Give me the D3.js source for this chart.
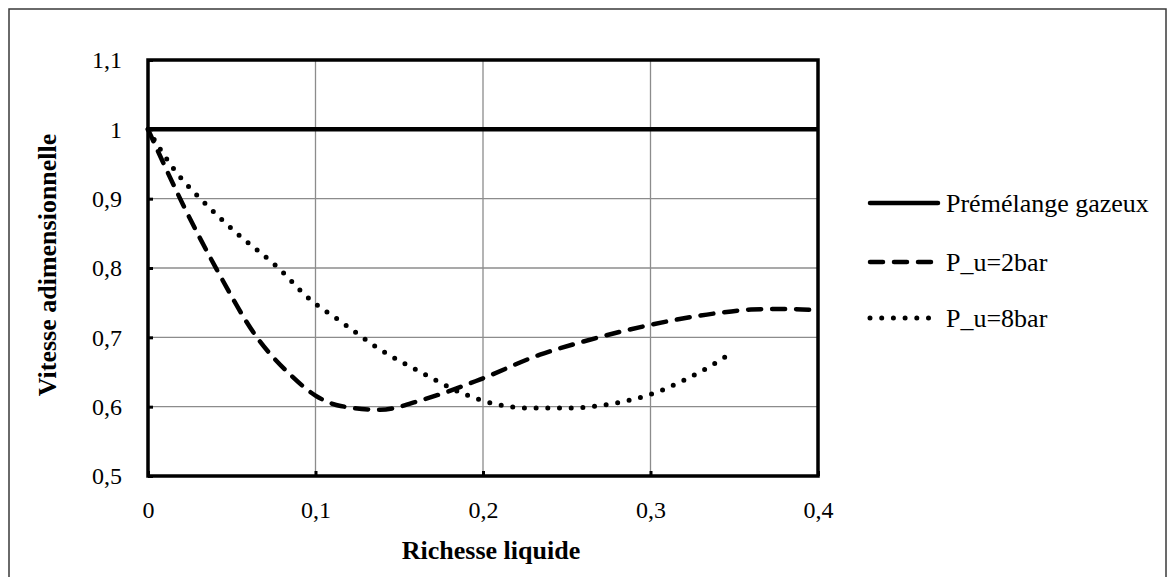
<!DOCTYPE html>
<html><head><meta charset="utf-8">
<script src="https://cdn.jsdelivr.net/npm/d3@7"></script>
<style>body{margin:0;background:#fff}svg{display:block}text{font-family:"Liberation Serif","Times New Roman",serif;fill:#000}</style>
</head><body>
<svg id="c" width="1167" height="577"></svg>
<script>
const xTicks = [0, 0.1, 0.2, 0.3, 0.4];
const yTicks = [0.5, 0.6, 0.7, 0.8, 0.9, 1.0, 1.1];
const seriesNames = ["Prémélange gazeux", "P_u=2bar", "P_u=8bar"];
const gazX = [0, 0.4];
const gazY = [1, 1];
const p2X = [0, 0.021, 0.041, 0.065, 0.085, 0.1, 0.115, 0.1385, 0.164, 0.198, 0.234, 0.26, 0.3, 0.34, 0.36, 0.38, 0.4];
const p2Y = [1, 0.891, 0.798, 0.700, 0.646, 0.616, 0.601, 0.5955, 0.610, 0.639, 0.675, 0.694, 0.718, 0.735, 0.740, 0.741, 0.739];
const p8X = [0, 0.015, 0.035, 0.055, 0.077, 0.097, 0.115, 0.1375, 0.162, 0.187, 0.207, 0.228, 0.25, 0.271, 0.292, 0.305, 0.318, 0.331, 0.35];
const p8Y = [1, 0.944, 0.891, 0.846, 0.802, 0.754, 0.723, 0.684, 0.651, 0.620, 0.604, 0.598, 0.598, 0.602, 0.612, 0.622, 0.636, 0.652, 0.680];

const svg = d3.select("#c");
const L = 148, R = 818, T = 60, B = 476;
const x = d3.scaleLinear().domain([0, 0.4]).range([L, R]);
const y = d3.scaleLinear().domain([0.5, 1.1]).range([B, T]);
const fmt = d => String(+d.toFixed(2)).replace(".", ",");

svg.append("rect").attr("x", 9).attr("y", 9).attr("width", 1157).attr("height", 600)
  .attr("fill", "none").attr("stroke", "#3a3a3a").attr("stroke-width", 1.5);

// grid
svg.append("g").selectAll("line").data(xTicks.slice(1, -1)).join("line")
  .attr("x1", d => x(d)).attr("x2", d => x(d)).attr("y1", T).attr("y2", B)
  .attr("stroke", "#8c8c8c").attr("stroke-width", 1.3);
svg.append("g").selectAll("line").data(yTicks.slice(1, -1)).join("line")
  .attr("y1", d => y(d)).attr("y2", d => y(d)).attr("x1", L).attr("x2", R)
  .attr("stroke", "#8c8c8c").attr("stroke-width", 1.3);

// axes
const xAxis = svg.append("g").attr("transform", `translate(0,${B})`)
  .call(d3.axisBottom(x).tickValues(xTicks).tickFormat(fmt).tickSize(-5).tickPadding(25));
const yAxis = svg.append("g").attr("transform", `translate(${L},0)`)
  .call(d3.axisLeft(y).tickValues(yTicks).tickFormat(fmt).tickSize(-5).tickPadding(26));
[xAxis, yAxis].forEach(a => {
  a.select(".domain").remove();
  a.selectAll(".tick line").attr("stroke", "#000").attr("stroke-width", 3);
  a.selectAll("text").attr("font-size", 24).attr("font-family", "Liberation Serif").attr("fill", "#000");
});
// frame
svg.append("rect").attr("x", L).attr("y", T).attr("width", R - L).attr("height", B - T)
  .attr("fill", "none").attr("stroke", "#000").attr("stroke-width", 3.5);

// series
const line = d3.line().x(d => x(d[0])).y(d => y(d[1])).curve(d3.curveMonotoneX);
const styles = [
  {dash: null, w: 4.5, cap: "butt"},
  {dash: "13 11", w: 4.5, cap: "round"},
  {dash: "0 11.7", w: 5, cap: "round"}
];
const data = [d3.zip(gazX, gazY), d3.zip(p2X, p2Y), d3.zip(p8X, p8Y)];
data.forEach((d, i) => {
  svg.append("path").attr("d", line(d)).attr("fill", "none").attr("stroke", "#000")
    .attr("stroke-width", styles[i].w).attr("stroke-dasharray", styles[i].dash)
    .attr("stroke-linecap", styles[i].cap);
});

// axis titles
svg.append("text").attr("x", 491).attr("y", 559).attr("text-anchor", "middle")
  .attr("font-size", 26).attr("font-weight", "bold").text("Richesse liquide");
svg.append("text").attr("transform", "translate(56,265) rotate(-90)").attr("text-anchor", "middle")
  .attr("font-size", 26).attr("font-weight", "bold").text("Vitesse adimensionnelle");

// legend
const legY = [203, 262, 318];
seriesNames.forEach((n, i) => {
  svg.append("line").attr("x1", 870).attr("x2", 938).attr("y1", legY[i]).attr("y2", legY[i])
    .attr("stroke", "#000").attr("stroke-width", styles[i].w)
    .attr("stroke-dasharray", styles[i].dash).attr("stroke-linecap", i === 0 ? "round" : styles[i].cap);
  svg.append("text").attr("x", 946).attr("y", legY[i] + 9)
    .attr("font-size", 26).text(n);
});
</script>
</body></html>
